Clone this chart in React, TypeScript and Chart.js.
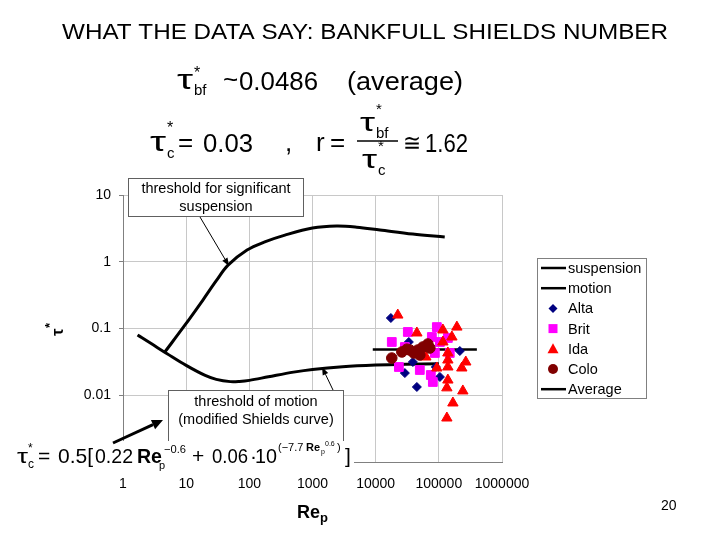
import React, { useEffect, useRef } from "react";
import { Chart, registerables } from "chart.js";
Chart.register(...registerables);

const FONT = '"Liberation Sans", Arial, Helvetica, sans-serif';

// axis ticks
const xTicks = [1, 10, 100, 1000, 10000, 100000, 1000000];
const xTickLabels = ["1", "10", "100", "1000", "10000", "100000", "1000000"];
const yTicks = [0.001, 0.01, 0.1, 1, 10];
const yTickLabels = ["", "0.01", "0.1", "1", "10"];

// threshold for significant suspension
const suspensionRep = [4.6, 9.6, 18.4, 30, 46, 92, 180, 366, 1000, 2400, 5000, 11700, 38700, 124000];
const suspensionTau = [0.0445, 0.113, 0.267, 0.52, 0.89, 1.5, 2.0, 2.51, 3.2, 3.43, 3.3, 2.99, 2.6, 2.35];

// threshold of motion (modified Shields curve)
const motionRep = [1.7, 2, 3, 5, 10, 20, 30, 50, 70, 100, 200, 500, 1000, 3000, 10000, 30000, 100000];
const motionTau = [0.08, 0.0726, 0.0569, 0.0419, 0.028, 0.0198, 0.0173, 0.016, 0.0161, 0.0167, 0.0189, 0.0222, 0.0244, 0.0268, 0.0284, 0.0292, 0.0296];

// field data
const altaRep = [17400, 33500, 215000, 38800, 29000, 89700, 104000, 44900];
const altaTau = [0.1436, 0.0628, 0.046, 0.0315, 0.0215, 0.0265, 0.0188, 0.0133];

const britRep = [18000, 32300, 93000, 77500, 139000, 149000, 23300, 50000, 74700, 80400, 86500, 29000, 104000];
const britTau = [0.0628, 0.0887, 0.105, 0.0746, 0.0721, 0.043, 0.0265, 0.0239, 0.0201, 0.0158, 0.043, 0.0528, 0.0628];

const idaRep = [22400, 193000, 116000, 44900, 161000, 116000, 139000, 139000, 267000, 139000, 231000, 139000, 134000, 240000, 167000, 134000, 62300, 93000];
const idaTau = [0.159, 0.105, 0.095, 0.0857, 0.0746, 0.0628, 0.043, 0.0337, 0.0315, 0.0265, 0.0256, 0.0169, 0.0129, 0.0116, 0.00766, 0.00456, 0.0374, 0.0256];

const coloRep = [18000, 26000, 34800, 46500, 55800, 67000, 50000, 40200, 72100, 31200];
const coloTau = [0.0361, 0.0445, 0.0476, 0.0476, 0.0528, 0.0586, 0.0401, 0.043, 0.051, 0.049];

const averageRep = [9000, 400000];
const averageTau = [0.0486, 0.0486];

const legendItems = [
  { label: "suspension", kind: "line", color: "#000" },
  { label: "motion", kind: "line", color: "#000" },
  { label: "Alta", kind: "diamond", color: "#000080" },
  { label: "Brit", kind: "square", color: "#ff00ff" },
  { label: "Ida", kind: "triangle", color: "#ff0000" },
  { label: "Colo", kind: "circle", color: "#800000" },
  { label: "Average", kind: "line", color: "#000" },
];

function txt(ctx: any, s: string, x: number, y: number, size: number, o: any = {}) {
  ctx.save();
  ctx.font = `${o.bold ? "bold " : ""}${size}px ${o.family || FONT}`;
  ctx.fillStyle = o.color || "#000";
  ctx.textBaseline = "alphabetic";
  ctx.textAlign = "left";
  const w = ctx.measureText(s).width;
  const sx = o.width ? o.width / w : 1;
  let left = x;
  if (o.align === "center") left = x - (w * sx) / 2;
  if (o.align === "right") left = x - w * sx;
  ctx.translate(left, y);
  ctx.scale(sx, 1);
  ctx.fillText(s, 0, 0);
  ctx.restore();
  return w * sx;
}

function arrow(ctx: any, x1: number, y1: number, x2: number, y2: number, lw: number, hl: number, hw: number) {
  const a = Math.atan2(y2 - y1, x2 - x1);
  const bx = x2 - Math.cos(a) * hl;
  const by = y2 - Math.sin(a) * hl;
  ctx.save();
  ctx.strokeStyle = "#000";
  ctx.fillStyle = "#000";
  ctx.lineWidth = lw;
  ctx.beginPath();
  ctx.moveTo(x1, y1);
  ctx.lineTo(bx, by);
  ctx.stroke();
  ctx.beginPath();
  ctx.moveTo(x2, y2);
  ctx.lineTo(bx + Math.sin(a) * hw, by - Math.cos(a) * hw);
  ctx.lineTo(bx - Math.sin(a) * hw, by + Math.cos(a) * hw);
  ctx.closePath();
  ctx.fill();
  ctx.restore();
}

function marker(ctx: any, kind: string, x: number, y: number, color: string) {
  ctx.save();
  ctx.fillStyle = color;
  ctx.beginPath();
  if (kind === "diamond") {
    ctx.moveTo(x, y - 4.5); ctx.lineTo(x + 4.5, y); ctx.lineTo(x, y + 4.5); ctx.lineTo(x - 4.5, y);
  } else if (kind === "square") {
    ctx.rect(x - 4.5, y - 4.5, 9, 9);
  } else if (kind === "triangle") {
    ctx.moveTo(x, y - 5.5); ctx.lineTo(x + 5.5, y + 4.5); ctx.lineTo(x - 5.5, y + 4.5);
  } else {
    ctx.arc(x, y, 5, 0, Math.PI * 2);
  }
  ctx.closePath();
  ctx.fill();
  ctx.restore();
}

const overlay = {
  id: "overlay",
  afterDraw(chart: any) {
    const ctx = chart.ctx;
    ctx.save();

    // title
    txt(ctx, "WHAT THE DATA SAY: BANKFULL SHIELDS NUMBER", 62, 39, 22, { width: 606 });

    // line 1
    txt(ctx, "τ", 177, 89, 27, { width: 16 });
    txt(ctx, "*", 194, 78, 16);
    txt(ctx, "bf", 194, 95, 15);
    txt(ctx, "~", 223, 88, 26);
    txt(ctx, "0.0486", 239, 90, 26, { width: 79 });
    txt(ctx, "(average)", 347, 90, 26, { width: 116 });

    // line 2
    txt(ctx, "τ", 150, 151, 27, { width: 16 });
    txt(ctx, "*", 167, 133, 16);
    txt(ctx, "c", 167, 158, 15);
    txt(ctx, "=", 178, 151, 26);
    txt(ctx, "0.03", 203, 152, 26, { width: 50 });
    txt(ctx, ",", 285, 151, 26);
    txt(ctx, "r", 316, 151, 26);
    txt(ctx, "=", 330, 151, 26);
    ctx.strokeStyle = "#000";
    ctx.lineWidth = 1.5;
    ctx.beginPath(); ctx.moveTo(357, 141); ctx.lineTo(398, 141); ctx.stroke();
    txt(ctx, "τ", 360, 131, 26, { width: 15 });
    txt(ctx, "*", 376, 114, 15);
    txt(ctx, "bf", 376, 138, 15);
    txt(ctx, "τ", 362, 168, 26, { width: 15 });
    txt(ctx, "*", 378, 151, 15);
    txt(ctx, "c", 378, 175, 15);
    txt(ctx, "≅", 403, 151, 24, { width: 18 });
    txt(ctx, "1.62", 425, 152, 26, { width: 43 });

    // annotation box 1
    ctx.fillStyle = "#fff";
    ctx.fillRect(128, 178, 175, 38);
    ctx.strokeStyle = "#606060";
    ctx.lineWidth = 1;
    ctx.strokeRect(128.5, 178.5, 175, 38);
    txt(ctx, "threshold for significant", 216, 193, 14.5, { align: "center" });
    txt(ctx, "suspension", 216, 211, 14.5, { align: "center" });
    arrow(ctx, 200, 217, 229, 266, 1, 8, 3);

    // annotation box 2
    ctx.fillStyle = "#fff";
    ctx.fillRect(168, 390, 175, 52);
    ctx.strokeStyle = "#606060";
    ctx.strokeRect(168.5, 390.5, 175, 52);
    txt(ctx, "threshold of motion", 256, 406, 14.5, { align: "center" });
    txt(ctx, "(modified Shields curve)", 256, 424, 14.5, { align: "center" });
    arrow(ctx, 333, 390, 322, 367, 1, 8, 3);

    // Shields formula
    ctx.fillStyle = "#fff";
    ctx.fillRect(12, 441, 342, 30);
    const B = 463;
    txt(ctx, "τ", 17, B, 21, { width: 11 });
    txt(ctx, "*", 28, B - 11, 12);
    txt(ctx, "c", 28, B + 5, 12);
    txt(ctx, "=", 38, B, 21);
    txt(ctx, "0.5[", 93, B, 21, { align: "right" });
    txt(ctx, "0.22", 95, B, 21, { width: 38 });
    txt(ctx, "Re", 137, B, 21, { bold: true, width: 25 });
    txt(ctx, "p", 159, B + 6, 11);
    txt(ctx, "−0.6", 164, B - 10, 11, { width: 22 });
    txt(ctx, "+", 192, B, 21);
    txt(ctx, "0.06", 212, B, 21, { width: 36 });
    txt(ctx, "·", 250, B, 21);
    txt(ctx, "10", 255, B, 21, { width: 22 });
    txt(ctx, "(−7.7", 278, B - 12, 11);
    txt(ctx, "Re", 306, B - 12, 11, { bold: true });
    txt(ctx, "p", 321, B - 9, 7);
    txt(ctx, "0.6", 325, B - 17, 7);
    txt(ctx, ")", 337, B - 12, 11);
    txt(ctx, "]", 345, B, 21);
    arrow(ctx, 113, 443, 163, 420, 3, 11, 5);

    // axis titles
    ctx.save();
    ctx.translate(63, 336);
    ctx.rotate(-Math.PI / 2);
    txt(ctx, "τ", 0, 0, 17, { bold: true });
    txt(ctx, "*", 8, -9, 13, { bold: true });
    ctx.restore();
    const rw = txt(ctx, "Re", 297, 518, 18, { bold: true });
    txt(ctx, "p", 297 + rw, 522, 13, { bold: true });

    // legend
    ctx.fillStyle = "#fff";
    ctx.fillRect(537, 258, 109, 140);
    ctx.strokeStyle = "#808080";
    ctx.lineWidth = 1;
    ctx.strokeRect(537.5, 258.5, 109, 140);
    legendItems.forEach((it, i) => {
      const y = 268 + i * 20.2;
      if (it.kind === "line") {
        ctx.strokeStyle = it.color;
        ctx.lineWidth = 2.5;
        ctx.beginPath(); ctx.moveTo(541, y); ctx.lineTo(566, y); ctx.stroke();
      } else {
        marker(ctx, it.kind, 553, y, it.color);
      }
      txt(ctx, it.label, 568, y + 5, 14.5);
    });

    // page number
    txt(ctx, "20", 661, 510, 14);
    ctx.restore();
  },
};

const pts = (xs: number[], ys: number[]) => xs.map((x, i) => ({ x, y: ys[i] }));

export default function App() {
  const ref = useRef<HTMLCanvasElement>(null);
  useEffect(() => {
    const canvas = ref.current!;
    const chart = new Chart(canvas, {
      type: "scatter",
      data: {
        datasets: [
          { label: "suspension", data: pts(suspensionRep, suspensionTau), showLine: true, borderColor: "#000", backgroundColor: "#000", borderWidth: 3, pointRadius: 0, tension: 0.35, order: 7 },
          { label: "motion", data: pts(motionRep, motionTau), showLine: true, borderColor: "#000", backgroundColor: "#000", borderWidth: 3, pointRadius: 0, tension: 0.35, order: 6 },
          { label: "Average", data: pts(averageRep, averageTau), showLine: true, borderColor: "#000", backgroundColor: "#000", borderWidth: 2.5, pointRadius: 0, order: 5 },
          { label: "Alta", data: pts(altaRep, altaTau), pointStyle: "rectRot", pointRadius: 4.5, backgroundColor: "#000080", borderColor: "#000080", borderWidth: 1, order: 4 },
          { label: "Brit", data: pts(britRep, britTau), pointStyle: "rect", pointRadius: 6.2, backgroundColor: "#ff00ff", borderColor: "#ff00ff", borderWidth: 1, order: 3 },
          { label: "Ida", data: pts(idaRep, idaTau), pointStyle: "triangle", pointRadius: 6, backgroundColor: "#ff0000", borderColor: "#ff0000", borderWidth: 1, order: 2 },
          { label: "Colo", data: pts(coloRep, coloTau), pointStyle: "circle", pointRadius: 5.3, backgroundColor: "#800000", borderColor: "#800000", borderWidth: 1, order: 1 },
        ],
      },
      options: {
        animation: false,
        responsive: false,
        devicePixelRatio: 1,
        events: [],
        layout: { padding: { left: 0, top: 195, right: 218, bottom: 0 } },
        plugins: { legend: { display: false }, tooltip: { enabled: false }, title: { display: false } },
        scales: {
          x: {
            type: "logarithmic",
            min: 1,
            max: 1000000,
            afterBuildTicks: (s: any) => { s.ticks = xTicks.map((v) => ({ value: v })); },
            afterFit: (s: any) => { s.height = 78; },
            ticks: { callback: (_v: any, i: number) => xTickLabels[i], font: { family: FONT, size: 14 }, color: "#000", padding: 14, maxRotation: 0, autoSkip: false },
            grid: { color: "#c8c8c8", drawTicks: false, lineWidth: 1 },
            border: { color: "#808080", width: 1 },
          },
          y: {
            type: "logarithmic",
            min: 0.001,
            max: 10,
            afterBuildTicks: (s: any) => { s.ticks = yTicks.map((v) => ({ value: v })); },
            afterFit: (s: any) => { s.width = 123; },
            ticks: { callback: (_v: any, i: number) => yTickLabels[i], font: { family: FONT, size: 14 }, color: "#000", padding: 8, autoSkip: false },
            grid: { color: "#c8c8c8", drawTicks: true, tickLength: 4, tickColor: "#808080", lineWidth: 1 },
            border: { color: "#808080", width: 1 },
          },
        },
      },
      plugins: [overlay],
    } as any);
    return () => chart.destroy();
  }, []);
  return (
    <div style={{ position: "absolute", left: 0, top: 0, width: 720, height: 540, background: "#fff" }}>
      <canvas ref={ref} width={720} height={540} style={{ width: 720, height: 540, display: "block" }} />
    </div>
  );
}
